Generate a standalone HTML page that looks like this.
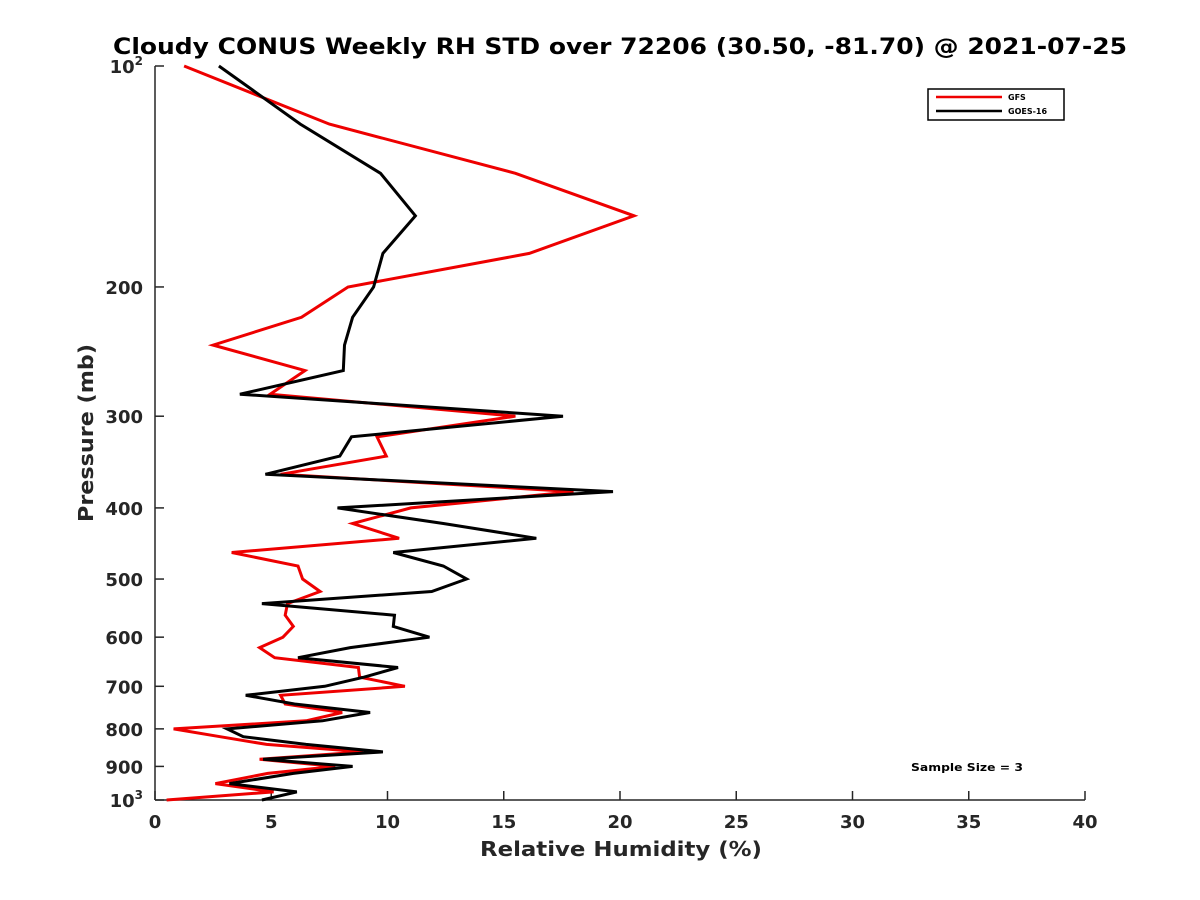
<!DOCTYPE html>
<html><head><meta charset="utf-8"><style>
body{margin:0;background:#fff;}
svg{display:block;font-family:"DejaVu Sans","Liberation Sans",sans-serif;}
</style></head><body>
<svg id="chart" width="1200" height="900">
<text x="620" y="54" text-anchor="middle" font-size="22" font-weight="bold" textLength="1014" lengthAdjust="spacingAndGlyphs">Cloudy CONUS Weekly RH STD over 72206 (30.50, -81.70) @ 2021-07-25</text>
<g id="axes"></g>
<g id="series"></g>
<g>
<rect x="928" y="89" width="136" height="31" fill="#fff" stroke="#000" stroke-width="1.5"/>
<line x1="936" y1="97" x2="1002" y2="97" stroke="#e00" stroke-width="2.5"/>
<text x="1008" y="100" font-size="8" font-weight="bold">GFS</text>
<line x1="936" y1="111" x2="1002" y2="111" stroke="#000" stroke-width="2.5"/>
<text x="1008" y="114" font-size="8" font-weight="bold">GOES-16</text>
</g>
<text x="967" y="771" text-anchor="middle" font-size="11" font-weight="bold" textLength="112" lengthAdjust="spacingAndGlyphs">Sample Size = 3</text>
<text x="621" y="856" text-anchor="middle" font-size="20" font-weight="bold" textLength="282" lengthAdjust="spacingAndGlyphs" fill="#262626">Relative Humidity (%)</text>
<text transform="translate(93,433) rotate(-90)" text-anchor="middle" font-size="20" font-weight="bold" textLength="178" lengthAdjust="spacingAndGlyphs" fill="#262626">Pressure (mb)</text>
</svg>
<script>
const pressures=[100,120,140,160,180,200,220,240,260,280,300,320,340,360,380,400,420,440,460,480,500,520,540,560,580,600,620,640,660,680,700,720,740,760,780,800,820,840,860,880,900,920,950,975,1000];
const gfsRH=[1.25,7.5,15.5,20.6,16.1,8.3,6.3,2.5,6.45,4.95,15.5,9.55,9.95,5.4,18.0,11.0,8.5,10.5,3.3,6.15,6.35,7.1,5.7,5.6,5.95,5.5,4.5,5.15,8.75,8.8,10.75,5.4,5.6,8.05,6.5,0.8,2.8,4.8,8.95,4.5,7.75,4.85,2.6,5.1,0.5];
const goesRH=[2.75,6.25,9.7,11.2,9.8,9.4,8.5,8.15,8.1,3.65,17.55,8.45,7.95,4.75,19.7,7.85,12.4,16.4,10.25,12.4,13.4,11.9,4.6,10.3,10.25,11.8,8.4,6.15,10.45,9.0,7.3,3.9,6.0,9.25,7.2,3.1,3.8,6.5,9.8,4.65,8.5,5.95,3.2,6.1,4.6];
const xTicks=[0,5,10,15,20,25,30,35,40];
const yTicks=[200,300,400,500,600,700,800,900];
const NS="http://www.w3.org/2000/svg";
const X0=155,X1=1085,Y0=66,Y1=800;
function xs(v){return X0+(v-0)/40*(X1-X0);}
function ys(p){return Y0+(Math.log10(p)-2)*(Y1-Y0);}
function mk(t,a,parent){const e=document.createElementNS(NS,t);for(const k in a)e.setAttribute(k,a[k]);parent.appendChild(e);return e;}
const ax=document.getElementById('axes');
let l=mk('line',{x1:X0,y1:Y0,x2:X0,y2:Y1,stroke:'#262626','stroke-width':1.5},ax);


l=mk('line',{x1:X0,y1:Y1,x2:X1,y2:Y1,stroke:'#262626','stroke-width':1.5},ax);


xTicks.forEach(v=>{
 const t=mk('line',{x1:xs(v),y1:Y1,x2:xs(v),y2:Y1-9,stroke:'#262626','stroke-width':1.5},ax);
 
 
 const tx=mk('text',{x:xs(v),y:Y1+28,'text-anchor':'middle','font-size':18,'font-weight':'bold',fill:'#262626'},ax);
 tx.textContent=v;
 
 
});
[100].concat(yTicks,[1000]).forEach(p=>{
 const t=mk('line',{x1:X0,y1:ys(p),x2:X0+9,y2:ys(p),stroke:'#262626','stroke-width':1.5},ax);
 
 
});
yTicks.forEach(p=>{
 const tx=mk('text',{x:X0-12,y:ys(p)+7,'text-anchor':'end','font-size':18,'font-weight':'bold',fill:'#262626'},ax);
 tx.textContent=p;
 
 
});
[[100,'2'],[1000,'3']].forEach(([p,e])=>{
 const tx=mk('text',{x:X0-12,y:ys(p)+7,'text-anchor':'end','font-size':18,'font-weight':'bold',fill:'#262626'},ax);
 tx.innerHTML='10<tspan dy="-8" font-size="12">'+e+'</tspan>';
 
 
});
const sg=document.getElementById('series');
function line(vals,color,name){
 const pts=vals.map((v,i)=>xs(v).toFixed(1)+','+ys(pressures[i]).toFixed(1)).join(' ');
 const e=mk('polyline',{points:pts,fill:'none',stroke:color,'stroke-width':3,'stroke-linejoin':'miter'},sg);
 
 
}
line(gfsRH,'#e00','gfs-line');
line(goesRH,'#000','goes16-line');
</script>
</body></html>
